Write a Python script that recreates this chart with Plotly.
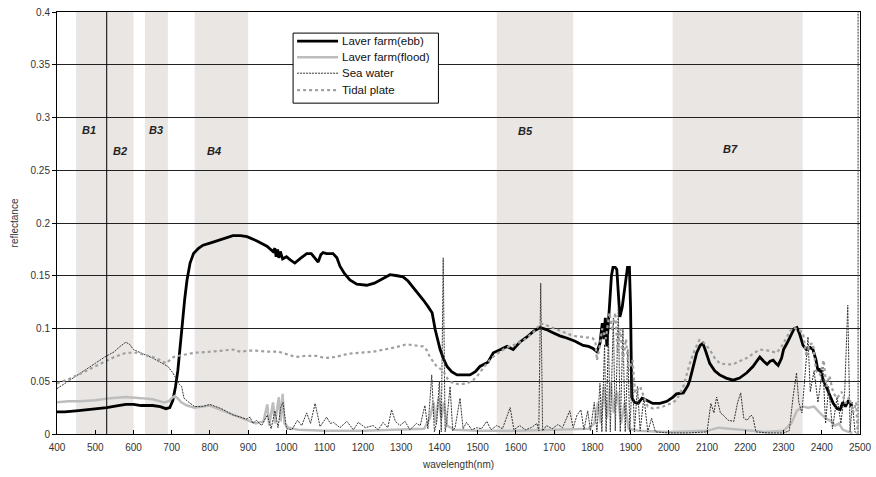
import plotly.graph_objects as go

# ---- Spectral reflectance curves (wavelength in nm, reflectance) ----
ebb_wl = [400, 420, 450, 480, 500, 530, 560, 580, 600, 620, 650, 670, 685, 695, 703, 710, 716, 722, 728, 734,
          740, 748, 757, 770, 782, 800, 826, 845, 860, 880, 897, 923, 949, 965, 970, 973, 977, 980, 984, 990,
          1000, 1010, 1022, 1035, 1053, 1065, 1075, 1083, 1090, 1096, 1105, 1122, 1132, 1140, 1152, 1166, 1184,
          1210, 1230, 1245, 1260, 1271, 1290, 1305, 1318, 1332, 1345, 1358, 1370, 1381, 1389, 1395, 1402, 1410,
          1420, 1432, 1446, 1465, 1480, 1494, 1506, 1527, 1541, 1560, 1577, 1593, 1610, 1629, 1645, 1663, 1680,
          1697, 1715, 1733, 1755, 1776, 1790, 1802, 1812, 1820, 1826, 1830, 1834, 1838, 1845, 1850, 1854, 1860,
          1864, 1868, 1872, 1878, 1885, 1892, 1897, 1900, 1903, 1910, 1920, 1930, 1942, 1958, 1977, 1995, 2011,
          2020, 2038, 2050, 2055, 2065, 2073, 2082, 2089, 2097, 2107, 2120, 2133, 2150, 2168, 2185, 2204, 2220,
          2230, 2238, 2248, 2257, 2265, 2273, 2280, 2286, 2295, 2300, 2309, 2320, 2328, 2335, 2342, 2351, 2360,
          2370, 2377, 2385, 2390, 2395, 2405, 2415, 2422, 2430, 2440, 2448, 2455, 2462, 2470, 2478]
ebb_refl = [0.021, 0.021, 0.022, 0.023, 0.024, 0.025, 0.027, 0.028, 0.028, 0.027, 0.027, 0.026, 0.024, 0.025,
            0.032, 0.045, 0.060, 0.080, 0.105, 0.128, 0.146, 0.162, 0.171, 0.176, 0.179, 0.181, 0.184, 0.186,
            0.188, 0.188, 0.187, 0.183, 0.178, 0.173, 0.176, 0.168, 0.175, 0.167, 0.173, 0.166, 0.168, 0.165,
            0.162, 0.166, 0.171, 0.171, 0.166, 0.163, 0.170, 0.172, 0.171, 0.171, 0.167, 0.159, 0.152, 0.146,
            0.142, 0.141, 0.143, 0.146, 0.149, 0.151, 0.150, 0.149, 0.145, 0.139, 0.133, 0.127, 0.121, 0.115,
            0.099, 0.090, 0.080, 0.072, 0.064, 0.059, 0.056, 0.056, 0.056, 0.059, 0.064, 0.068, 0.077, 0.080,
            0.083, 0.080, 0.087, 0.092, 0.097, 0.101, 0.099, 0.096, 0.093, 0.091, 0.088, 0.084, 0.083, 0.081,
            0.078, 0.086, 0.105, 0.090, 0.110, 0.083, 0.120, 0.150, 0.158, 0.158, 0.156, 0.130, 0.111, 0.120,
            0.140, 0.158, 0.158, 0.120, 0.035, 0.030, 0.029, 0.034, 0.032, 0.029, 0.029, 0.031, 0.035, 0.038,
            0.039, 0.046, 0.051, 0.065, 0.077, 0.084, 0.086, 0.078, 0.067, 0.060, 0.056, 0.053, 0.051, 0.053,
            0.058, 0.064, 0.069, 0.073, 0.069, 0.066, 0.069, 0.070, 0.067, 0.065, 0.072, 0.080, 0.086, 0.094,
            0.100, 0.101, 0.095, 0.084, 0.080, 0.082, 0.080, 0.070, 0.060, 0.062, 0.050, 0.042, 0.036, 0.029,
            0.024, 0.023, 0.030, 0.026, 0.032, 0.026]

flood_wl = [400, 430, 460, 500, 540, 580, 620, 650, 680, 692, 700, 708, 715, 725, 740, 760, 780, 800, 820, 850,
            880, 900, 920, 940, 950, 955, 965, 970, 980, 985, 990, 995, 1005, 1030, 1100, 1200, 1300, 1360, 1375,
            1385, 1390, 1398, 1405, 1412, 1420, 1440, 1500, 1600, 1700, 1790, 1805, 1815, 1822, 1830, 1838, 1848,
            1856, 1865, 1875, 1885, 1895, 1920, 2000, 2100, 2130, 2160, 2200, 2250, 2300, 2320, 2335, 2350, 2365,
            2380, 2395, 2410, 2425, 2435, 2445, 2455, 2470, 2480]
flood_refl = [0.030, 0.031, 0.031, 0.032, 0.034, 0.035, 0.034, 0.033, 0.030, 0.031, 0.034, 0.036, 0.034, 0.030,
              0.027, 0.025, 0.026, 0.027, 0.024, 0.020, 0.016, 0.013, 0.010, 0.012, 0.028, 0.008, 0.030, 0.010,
              0.035, 0.012, 0.038, 0.010, 0.006, 0.004, 0.003, 0.003, 0.004, 0.005, 0.015, 0.030, 0.010, 0.034,
              0.015, 0.030, 0.008, 0.004, 0.003, 0.003, 0.004, 0.005, 0.010, 0.030, 0.010, 0.045, 0.015, 0.050,
              0.020, 0.040, 0.010, 0.030, 0.005, 0.003, 0.002, 0.003, 0.006, 0.005, 0.004, 0.002, 0.003, 0.010,
              0.022, 0.026, 0.025, 0.026, 0.020, 0.015, 0.012, 0.008, 0.010, 0.004, 0.002, 0.001]

sea_wl = [400, 420, 450, 475, 500, 525, 550, 565, 580, 590, 600, 625, 650, 670, 690, 703, 712, 720, 726, 732, 745,
          760, 780, 800, 815, 830, 845, 860, 880, 895, 905, 912, 922, 935, 950, 960, 970, 978, 985, 991, 1000,
          1014, 1029, 1040, 1053, 1063, 1075, 1088, 1105, 1115, 1123, 1140, 1158, 1175, 1188, 1206, 1227, 1240,
          1253, 1265, 1275, 1285, 1297, 1310, 1323, 1340, 1350, 1362, 1370, 1380, 1387, 1393, 1400, 1405, 1410,
          1415, 1419, 1428, 1435, 1441, 1454, 1462, 1471, 1485, 1497, 1510, 1524, 1535, 1550, 1565, 1585, 1595,
          1610, 1625, 1640, 1655, 1660, 1665, 1670, 1680, 1695, 1710, 1722, 1733, 1741, 1750, 1760, 1770, 1778,
          1788, 1795, 1805, 1812, 1820, 1825, 1832, 1836, 1842, 1847, 1855, 1860, 1868, 1873, 1880, 1886, 1893,
          1898, 1905, 1910, 1918, 1925, 1935, 1945, 1955, 1965, 2000, 2050, 2100, 2110, 2118, 2125, 2135, 2142,
          2155, 2170, 2180, 2188, 2196, 2205, 2215, 2220, 2228, 2260, 2300, 2315, 2325, 2334, 2340, 2348, 2355,
          2364, 2370, 2380, 2390, 2403, 2410, 2418, 2428, 2440, 2450, 2460, 2468, 2474, 2480, 2487, 2495, 2495]
sea_refl = [0.043, 0.048, 0.055, 0.061, 0.067, 0.073, 0.078, 0.083, 0.087, 0.085, 0.080, 0.076, 0.072, 0.068,
            0.064, 0.058, 0.052, 0.047, 0.045, 0.034, 0.030, 0.026, 0.026, 0.028, 0.026, 0.024, 0.021, 0.018,
            0.016, 0.014, 0.016, 0.010, 0.013, 0.008, 0.018, 0.005, 0.022, 0.006, 0.025, 0.030, 0.005, 0.004,
            0.013, 0.008, 0.020, 0.010, 0.029, 0.007, 0.016, 0.010, 0.011, 0.006, 0.012, 0.004, 0.011, 0.006,
            0.008, 0.004, 0.011, 0.006, 0.023, 0.012, 0.008, 0.012, 0.004, 0.010, 0.008, 0.027, 0.005, 0.056,
            0.002, 0.011, 0.050, 0.002, 0.167, 0.002, 0.011, 0.045, 0.003, 0.006, 0.034, 0.005, 0.011, 0.004,
            0.006, 0.005, 0.012, 0.004, 0.008, 0.005, 0.025, 0.004, 0.008, 0.004, 0.006, 0.010, 0.003, 0.143,
            0.003, 0.008, 0.005, 0.009, 0.006, 0.016, 0.022, 0.006, 0.018, 0.023, 0.004, 0.022, 0.003, 0.030,
            0.002, 0.048, 0.002, 0.085, 0.002, 0.095, 0.002, 0.110, 0.003, 0.120, 0.002, 0.100, 0.002, 0.080,
            0.002, 0.060, 0.002, 0.045, 0.003, 0.035, 0.002, 0.015, 0.002, 0.001, 0.001, 0.002, 0.029, 0.020,
            0.035, 0.020, 0.018, 0.013, 0.012, 0.030, 0.039, 0.015, 0.013, 0.018, 0.016, 0.002, 0.001, 0.001,
            0.003, 0.035, 0.058, 0.030, 0.020, 0.050, 0.092, 0.040, 0.060, 0.030, 0.064, 0.010, 0.045, 0.005,
            0.035, 0.010, 0.040, 0.122, 0.002, 0.030, 0.002, 0.000, 0.450]

tidal_wl = [400, 430, 460, 500, 530, 550, 580, 610, 630, 650, 670, 685, 695, 705, 730, 760, 800, 830, 860, 880,
            900, 920, 950, 980, 1000, 1024, 1050, 1080, 1100, 1128, 1160, 1190, 1227, 1255, 1283, 1314, 1340,
            1358, 1368, 1375, 1385, 1393, 1410, 1422, 1436, 1455, 1471, 1485, 1497, 1510, 1524, 1540, 1555, 1575,
            1600, 1625, 1650, 1665, 1680, 1700, 1725, 1750, 1775, 1800, 1808, 1812, 1818, 1826, 1835, 1845, 1852,
            1860, 1866, 1873, 1880, 1888, 1895, 1905, 1912, 1925, 1935, 1945, 1960, 1985, 2005, 2020, 2038, 2055,
            2068, 2080, 2090, 2107, 2120, 2133, 2150, 2168, 2185, 2204, 2220, 2238, 2260, 2282, 2295, 2309, 2318,
            2325, 2338, 2351, 2356, 2360, 2368, 2377, 2385, 2395, 2405, 2412, 2420, 2430, 2440, 2452, 2462, 2472,
            2482, 2490, 2494]
tidal_refl = [0.048, 0.052, 0.057, 0.064, 0.069, 0.073, 0.077, 0.077, 0.075, 0.073, 0.070, 0.067, 0.070, 0.073,
              0.075, 0.077, 0.078, 0.079, 0.080, 0.078, 0.079, 0.079, 0.078, 0.078, 0.076, 0.073, 0.074, 0.074,
              0.072, 0.073, 0.076, 0.077, 0.078, 0.080, 0.082, 0.085, 0.084, 0.083, 0.079, 0.073, 0.068, 0.064,
              0.060, 0.052, 0.048, 0.047, 0.048, 0.050, 0.054, 0.060, 0.067, 0.073, 0.077, 0.082, 0.085, 0.090,
              0.098, 0.105, 0.103, 0.100, 0.096, 0.093, 0.092, 0.091, 0.088, 0.070, 0.080, 0.100, 0.090, 0.115,
              0.098, 0.115, 0.078, 0.100, 0.070, 0.090, 0.060, 0.070, 0.039, 0.045, 0.035, 0.026, 0.024, 0.026,
              0.029, 0.032, 0.045, 0.067, 0.080, 0.089, 0.087, 0.080, 0.072, 0.067, 0.066, 0.066, 0.069, 0.072,
              0.076, 0.080, 0.079, 0.077, 0.083, 0.092, 0.098, 0.101, 0.099, 0.096, 0.080, 0.073, 0.085, 0.086,
              0.060, 0.056, 0.070, 0.045, 0.055, 0.039, 0.034, 0.040, 0.029, 0.035, 0.020, 0.030, 0.000]

# ---- Landsat TM band windows (nm) ----
band_names = ["B1", "B2", "B3", "B4", "B5", "B7"]
band_start = [450, 520, 630, 760, 1550, 2010]
band_end = [520, 600, 690, 900, 1750, 2350]
band_label_wl = [484, 565, 659, 811, 1625, 2162]
band_label_refl = [0.288, 0.268, 0.288, 0.268, 0.287, 0.270]
marker_wl = 530

font_main = "Liberation Sans, Arial, sans-serif"

series_names = ["Laver farm(ebb)", "Laver farm(flood)", "Sea water", "Tidal plate"]
series_styles = [
    dict(color="#000000", width=2.8),
    dict(color="#bdbdbd", width=2.5),
    dict(color="#333333", width=1, dash="2px,1px"),
    dict(color="#a0a0a0", width=2.2, dash="dot"),
]
series_x = [ebb_wl, flood_wl, sea_wl, tidal_wl]
series_y = [ebb_refl, flood_refl, sea_refl, tidal_refl]

fig = go.Figure()
for name, style, xs, ys in zip(series_names, series_styles, series_x, series_y):
    fig.add_trace(go.Scatter(x=xs, y=ys, mode="lines", name=name, line=style, showlegend=False))

# shaded band windows and their labels
for name, s, e, lx, ly in zip(band_names, band_start, band_end, band_label_wl, band_label_refl):
    fig.add_shape(type="rect", xref="x", yref="y", x0=s, x1=e, y0=0, y1=0.4,
                  fillcolor="#e9e6e4", line=dict(width=0), layer="below")
    fig.add_annotation(x=lx, y=ly, xref="x", yref="y", text=f"<b><i>{name}</i></b>",
                       showarrow=False, font=dict(family=font_main, size=11, color="#222222"))

# vertical reference line
fig.add_shape(type="line", xref="x", yref="y", x0=marker_wl, x1=marker_wl, y0=0, y1=0.4,
              line=dict(color="#000000", width=1), layer="above")

# compact boxed key drawn in paper coordinates
key_left, key_right, key_top, key_bottom = 0.294, 0.475, 0.950, 0.784
key_rows = [0.931, 0.893, 0.855, 0.815]
fig.add_shape(type="rect", xref="paper", yref="paper", x0=key_left, x1=key_right, y0=key_bottom, y1=key_top,
              fillcolor="white", line=dict(color="#000000", width=1), layer="above")
for name, style, ry in zip(series_names, series_styles, key_rows):
    fig.add_shape(type="line", xref="paper", yref="paper", x0=key_left + 0.005, x1=key_left + 0.056,
                  y0=ry, y1=ry, line=style, layer="above")
    fig.add_annotation(x=key_left + 0.058, y=ry, xref="paper", yref="paper", text=name,
                       showarrow=False, xanchor="left", yanchor="middle",
                       font=dict(family=font_main, size=11.5, color="#111111"))

fig.update_layout(
    width=876, height=477,
    margin=dict(l=57, r=16, t=12, b=43),
    paper_bgcolor="white", plot_bgcolor="white",
    font=dict(family=font_main, size=10, color="#333333"),
    showlegend=False,
)

fig.update_xaxes(range=[400, 2500], dtick=100, tick0=400, showgrid=False, automargin=False,
                 showline=True, mirror=True, linecolor="#000000", linewidth=1,
                 ticks="inside", ticklen=4, tickcolor="#000000", ticklabelstandoff=4,
                 title=dict(text="wavelength(nm)", standoff=8, font=dict(size=10)),
                 tickfont=dict(size=10), zeroline=False)
fig.update_yaxes(range=[0, 0.4], dtick=0.05, tick0=0, showgrid=True, gridcolor="#222222", gridwidth=1,
                 automargin=False,
                 showline=True, mirror=True, linecolor="#000000", linewidth=1,
                 ticks="outside", ticklen=4, tickcolor="#000000",
                 title=dict(text="reflectance", standoff=10, font=dict(size=10)),
                 tickfont=dict(size=10), zeroline=False)

fig.write_html("out.html")
